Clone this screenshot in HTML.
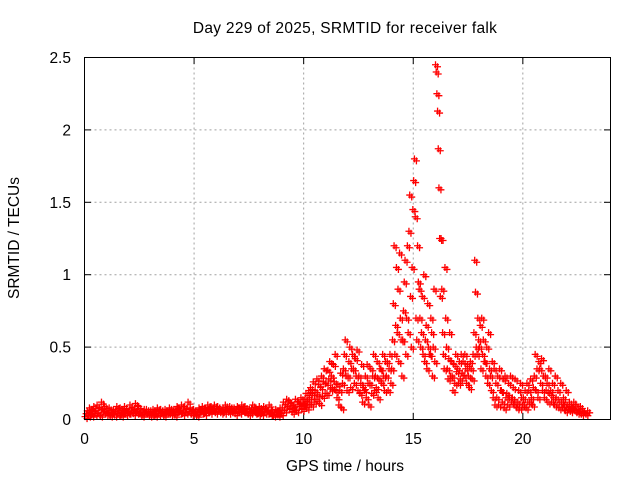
<!DOCTYPE html>
<html><head><meta charset="utf-8"><style>
body{margin:0;background:#fff;}
svg{display:block;font-family:"Liberation Sans",sans-serif;}
</style></head><body>
<svg id="chart" width="640" height="480" viewBox="0 0 640 480">
<rect width="640" height="480" fill="#fff"/>
<text x="345" y="33" font-size="15.5" letter-spacing="0.3" text-anchor="middle">Day 229 of 2025, SRMTID for receiver falk</text>
<text transform="translate(19,238) rotate(-90)" font-size="15.5" text-anchor="middle">SRMTID / TECUs</text>
<text x="345" y="471" font-size="15.5" text-anchor="middle">GPS time / hours</text>
<g id="grid"></g><g id="ticks"></g><g id="pts"></g>
<rect x="84.5" y="57.5" width="526" height="362" fill="none" stroke="#000"/>
</svg>
<script>
const binStart=[0,0.25,0.5,0.75,1,1.25,1.5,1.75,2,2.25,2.5,2.75,3,3.25,3.5,3.75,4,4.25,4.5,4.75,5,5.25,5.5,5.75,6,6.25,6.5,6.75,7,7.25,7.5,7.75,8,8.25,8.5,8.75,9,9.25,9.5,9.75,10,10.25,10.5,10.75,11,11.25,11.5,11.75,12,12.25,12.5,12.75,13,13.25,13.5,13.75,14,14.25,14.5,14.75,15,15.25,15.5,15.75,16,16.25,16.5,16.75,17,17.25,17.5,17.75,18,18.25,18.5,18.75,19,19.25,19.5,19.75,20,20.25,20.5,20.75,21,21.25,21.5,21.75,22,22.25,22.5,22.75];
const binValues=[
[.02,.04,.06,.03,.08],[.05,.03,.07,.09,.04],[.06,.1,.04,.08,.03],[.12,.07,.05,.09,.04],[.06,.04,.08,.03,.05],[.05,.07,.03,.06,.09],[.04,.06,.08,.03,.05],[.06,.09,.04,.07,.05],[.05,.1,.06,.08,.04],[.07,.11,.05,.06,.09],[.04,.06,.03,.05,.07],[.05,.07,.04,.06,.03],[.06,.04,.07,.05,.03],[.05,.08,.04,.06,.07],[.04,.06,.03,.07,.05],[.06,.05,.08,.04,.07],[.05,.07,.03,.06,.09],[.08,.05,.06,.1,.04],[.06,.09,.05,.07,.12],[.05,.08,.04,.06,.07],[.04,.06,.03,.05,.08],[.07,.05,.09,.06,.04],[.08,.06,.1,.07,.05],[.09,.07,.06,.1,.05],[.07,.09,.06,.08,.05],[.06,.08,.05,.1,.07],[.07,.05,.09,.06,.08],[.06,.08,.04,.07,.09],[.08,.05,.07,.1,.06],[.06,.09,.05,.07,.04],[.07,.05,.08,.1,.06],[.05,.08,.06,.04,.09],[.06,.04,.07,.09,.05],[.08,.05,.06,.1,.04],[.04,.06,.03,.05,.07],[.05,.03,.06,.08,.04],[.08,.12,.06,.1,.14],[.09,.13,.07,.11,.05],[.1,.08,.14,.06,.12],[.12,.09,.15,.07,.11],
[.1,.14,.18,.08,.12,.2],[.15,.22,.1,.18,.26,.12],[.2,.14,.28,.17,.24,.11],[.22,.3,.16,.26,.35,.18],[.25,.18,.34,.28,.4,.21],[.3,.22,.38,.26,.45,.2],[.15,.24,.1,.2,.32,.08],[.25,.35,.45,.55,.3,.2],[.3,.4,.5,.22,.35,.45],[.35,.25,.42,.3,.48,.2],[.3,.18,.25,.38,.12,.22],[.2,.3,.15,.38,.25,.1],[.25,.35,.18,.3,.45,.2],[.3,.22,.4,.15,.28,.35],[.35,.25,.45,.3,.2,.4],[.3,.4,.2,.35,.45,.25],
[.35,.55,.8,1.2,.45,.65,1.05],[.6,.9,.4,1.15,.7,.55,.3],[.55,.75,.95,1.1,.45,.7,1.2],[.6,1.3,1.55,.85,.5,1.05,1.45],[1.65,1.8,1.4,.7,.55,1.2,.95],[.9,.7,.5,.6,.85,.45,1.0],[.4,.55,.65,.35,.8,.5,.45],[.45,.7,.6,.3,.5,.9,.4],[2.45,2.4,2.25,2.13,1.87,1.6,1.25,.85],[1.25,.9,.6,.45,.35,1.05,.7],[.5,.35,.28,.42,.6,.3,.4],[.3,.2,.38,.25,.45,.33],[.35,.25,.4,.28,.45,.32],[.4,.3,.45,.35,.25,.38],[.3,.22,.4,.35,.28,.45],[.6,1.1,.88,.5,.45,.7,.55],[.5,.65,.35,.7,.45,.55,.4],[.4,.3,.5,.25,.6,.35],[.3,.2,.4,.15,.35,.1],[.25,.15,.3,.1,.35,.2],[.2,.12,.28,.08,.3,.15],[.18,.1,.25,.15,.3,.12],[.15,.22,.1,.28,.12,.08],[.12,.2,.08,.25,.15,.1],[.15,.1,.2,.08,.25,.12],[.2,.12,.28,.15,.1,.22],[.3,.45,.2,.35,.15,.4],[.35,.25,.42,.2,.3,.15],[.3,.2,.25,.12,.35,.18],[.2,.12,.25,.15,.1,.3],[.15,.1,.2,.08,.12,.25],[.12,.08,.15,.1,.06,.2],[.1,.07,.12,.06,.09],[.08,.12,.06,.1,.05],[.07,.05,.09,.04,.06],[.05,.04,.06]];
const xTicks=[0,5,10,15,20];
const yTicks=[0,0.5,1,1.5,2,2.5];
const yTickLabels=["0","0.5","1","1.5","2","2.5"];
const NS="http://www.w3.org/2000/svg";
const X=v=>84.5+v*(526/24), Y=v=>419.5-v*(362/2.5);
const grid=document.getElementById('grid'),ticks=document.getElementById('ticks'),pts=document.getElementById('pts');
function mk(tag,attrs,parent){const e=document.createElementNS(NS,tag);for(const k in attrs)e.setAttribute(k,attrs[k]);parent.appendChild(e);return e;}
xTicks.forEach(t=>{
  const x=X(t);
  if(t>0){const g=mk('line',{x1:x,x2:x,y1:57.5,y2:419.5,stroke:'#a0a0a0','stroke-dasharray':'2,3'},grid);
  
  }
  const l=mk('text',{x:x,y:444,'font-size':15.5,'text-anchor':'middle'},ticks);l.textContent=t;
  
  
  mk('line',{x1:x,x2:x,y1:419.5,y2:413,stroke:'#000'},ticks);
  mk('line',{x1:x,x2:x,y1:57.5,y2:64,stroke:'#000'},ticks);
});
yTicks.forEach((t,i)=>{
  const y=Y(t);
  if(t>0&&t<2.5){const g=mk('line',{x1:84.5,x2:610.5,y1:y,y2:y,stroke:'#a0a0a0','stroke-dasharray':'2,3'},grid);
  
  }
  const l=mk('text',{x:71,y:y+5.5,'font-size':15.5,'text-anchor':'end'},ticks);l.textContent=yTickLabels[i];
  
  
  mk('line',{x1:84.5,x2:91,y1:y,y2:y,stroke:'#000'},ticks);
  mk('line',{x1:610.5,x2:604,y1:y,y2:y,stroke:'#000'},ticks);
});
let d='';
binStart.forEach((t0,i)=>{
  const vals=binValues[i];
  vals.forEach((v,j)=>{
    const x=X(t0+0.25*(j+0.5)/vals.length), y=Y(v);
    d+=`M${x-3.5},${y}h7M${x},${y-3.5}v7`;
    d+=`M${x-1.5},${y+2}h7M${x+2},${y-1.5}v7`;
  });
});
const p=mk('path',{d:d,stroke:'#ff0000','stroke-width':1.3,fill:'none'},pts);


</script>
</body></html>
